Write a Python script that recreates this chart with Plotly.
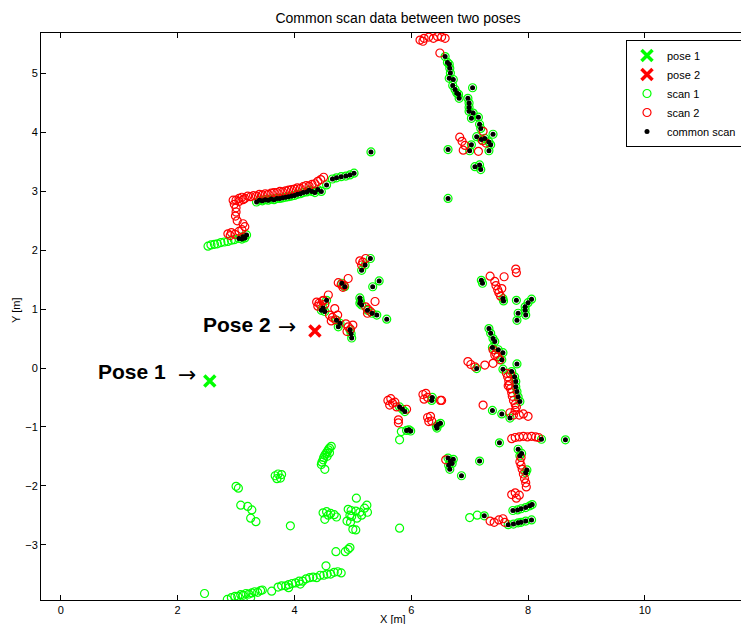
import plotly.graph_objects as go

# ---------------- data (metres) ----------------
pose1_x = [2.55]
pose1_y = [-0.22]
pose2_x = [4.35]
pose2_y = [0.63]

# scan 1 points that have no match in scan 2 (green only)
scan1_only_x = [2.52, 2.57, 2.63, 2.68, 2.74, 2.80, 2.86, 2.92, 2.97,
                4.63, 4.60, 4.58, 4.56, 4.54, 4.52, 4.50, 4.49, 4.47, 4.46, 4.56, 4.60, 4.52,
                3.67, 3.72, 3.78, 3.70, 3.76,
                3.00, 3.04,
                3.08, 3.20, 3.27, 3.25, 3.34, 3.93,
                4.49, 4.55, 4.62, 4.68, 4.72, 4.52, 4.58,
                5.06, 4.92, 4.97, 5.05, 5.12, 5.20, 5.24, 5.25, 4.98, 5.07, 4.90, 4.96, 5.00, 5.05, 4.95, 5.15,
                4.87, 4.92, 4.95, 4.71,
                2.46, 2.85, 2.92, 2.98, 3.03, 3.08, 3.12, 3.17, 3.22, 3.27, 3.32, 3.37, 3.42, 3.61,
                3.72, 3.78, 3.85, 3.90, 3.96, 4.02, 4.08, 4.14, 4.20, 4.26, 4.32, 4.38, 4.44, 4.50,
                4.56, 4.62, 4.68, 4.74, 4.80, 4.54, 4.10, 3.90, 3.25, 3.45,
                5.83, 5.80, 7.00, 7.13, 5.80]
scan1_only_y = [2.07, 2.09, 2.10, 2.11, 2.13, 2.14, 2.15, 2.17, 2.18,
                -1.33, -1.36, -1.39, -1.42, -1.45, -1.48, -1.52, -1.56, -1.60, -1.64, -1.50, -1.44, -1.72,
                -1.83, -1.80, -1.81, -1.88, -1.87,
                -2.01, -2.04,
                -2.33, -2.35, -2.41, -2.55, -2.61, -2.68,
                -2.46, -2.44, -2.47, -2.49, -2.53, -2.57, -2.50,
                -2.21, -2.40, -2.42, -2.43, -2.45, -2.38, -2.33, -2.45, -2.52, -2.55, -2.60, -2.62, -2.74, -2.75, -2.50, -2.50,
                -3.12, -3.08, -3.05, -3.12,
                -3.83, -3.93, -3.90, -3.88, -3.88, -3.85, -3.86, -3.83, -3.84, -3.82, -3.80, -3.81, -3.78, -3.79,
                -3.72, -3.70, -3.70, -3.68, -3.66, -3.65, -3.62, -3.62, -3.58, -3.56, -3.55, -3.56, -3.52, -3.52,
                -3.50, -3.50, -3.47, -3.46, -3.48, -3.36, -3.67, -3.73, -3.90, -3.77,
                -1.08, -1.22, -2.54, -2.50, -2.72]

# common scan points (scan 1 points matched in scan 2)
common_x = [6.58, 6.62, 6.65, 6.66, 6.67, 6.65, 6.72, 6.71, 6.75, 6.78, 6.81, 6.82, 7.05,
            6.97, 6.99, 6.99, 6.99, 7.06, 7.03, 7.15, 7.17, 7.19, 7.12, 7.20, 7.26, 7.33, 7.40,
            7.36, 7.03, 7.00, 7.33, 6.63, 7.09, 7.17, 7.19, 6.63,
            3.35, 3.40, 3.45, 3.50, 3.55, 3.60, 3.65, 3.70, 3.75, 3.80, 3.85, 3.90, 3.95, 4.00,
            4.05, 4.10, 4.15, 4.21, 4.25, 4.30, 4.35, 4.40, 4.46, 4.55, 4.65, 4.72, 4.80, 4.88,
            4.95, 5.02, 5.31, 3.05, 3.12, 3.18, 3.10, 3.15,
            5.30, 5.21, 5.15, 5.45, 5.34, 4.86, 4.81, 5.12, 5.13, 5.12, 5.15, 5.25, 5.33, 5.41,
            5.58, 4.55, 4.46, 4.52, 4.49, 4.72, 4.78, 4.75, 4.95, 4.97, 4.98,
            7.20, 7.22, 7.57, 7.58, 7.80, 8.06, 8.00, 7.95, 7.95, 7.83, 7.81, 7.96,
            7.33, 7.36, 7.40, 7.43, 7.39, 7.49, 7.57, 7.55, 7.57, 7.81, 7.72, 7.77, 7.79, 7.79,
            7.81, 7.83, 7.86, 7.12, 7.39, 7.55, 7.69,
            8.23, 8.64, 7.51, 7.83, 7.89, 7.86, 7.98, 7.96, 7.17, 6.86, 6.66, 6.63, 6.67, 6.70,
            6.72, 6.64, 7.74, 7.82, 7.88, 7.96, 8.03, 8.07, 7.25, 7.66, 7.75, 7.83, 7.88, 7.96, 8.06,
            5.80, 5.85, 5.89, 6.35, 6.36, 5.92, 5.96, 5.99, 6.43, 6.46, 6.50, 6.44]
common_y = [5.29, 5.19, 5.16, 5.09, 5.01, 4.92, 4.90, 4.80, 4.73, 4.67, 4.65, 4.58, 4.76,
            4.58, 4.50, 4.43, 4.36, 4.33, 4.24, 4.26, 4.14, 4.07, 3.93, 3.88, 3.90, 3.84, 3.97,
            3.79, 3.79, 3.69, 3.69, 3.71, 3.42, 3.45, 3.37, 2.88,
            2.82, 2.85, 2.84, 2.86, 2.85, 2.87, 2.86, 2.88, 2.88, 2.89, 2.90, 2.91, 2.92, 2.93,
            2.95, 2.96, 2.98, 2.99, 3.02, 3.00, 2.98, 3.03, 3.00, 3.11, 3.21, 3.23, 3.25, 3.26,
            3.28, 3.31, 3.67, 2.20, 2.23, 2.26, 2.19, 2.21,
            1.86, 1.75, 1.66, 1.48, 1.38, 1.38, 1.44, 1.19, 1.14, 1.10, 1.07, 0.98, 0.93, 0.90,
            0.83, 1.15, 0.98, 0.96, 1.02, 0.81, 0.76, 0.70, 0.65, 0.58, 0.51,
            1.49, 1.44, 1.18, 1.14, 1.15, 1.17, 1.11, 1.04, 0.98, 0.93, 0.81, 0.90,
            0.67, 0.59, 0.50, 0.45, 0.35, 0.31, 0.26, 0.14, -0.02, 0.07, -0.06, -0.15, -0.23, -0.32,
            -0.40, -0.49, -0.57, -0.01, -0.72, -0.78, -0.85,
            -1.21, -1.22, -1.27, -1.38, -1.45, -1.49, -1.73, -1.78, -1.58, -1.83, -1.72, -1.53, -1.58, -1.62,
            -1.55, -1.65, -2.42, -2.41, -2.39, -2.37, -2.34, -2.32, -2.51, -2.66, -2.65, -2.63, -2.62, -2.60, -2.58,
            -0.66, -0.70, -0.74, -0.55, -0.50, -1.06, -1.05, -1.07, -0.99, -0.96, -0.94, -1.02]

# scan 2 points
scan2_x = [6.15, 6.22, 6.30, 6.38, 6.45, 6.52, 6.58, 6.20, 6.49, 6.83, 6.87, 6.92, 6.89, 7.15, 7.23, 7.22, 7.28,
           2.95, 2.97, 3.00, 3.00, 2.99, 3.02, 3.00, 3.05, 3.10, 3.15, 3.20, 3.25, 3.30, 3.35, 3.40, 3.45,
           3.50, 3.55, 3.60, 3.65, 3.70, 3.75, 3.80, 3.85, 3.90, 3.95, 4.00, 4.05, 4.10, 4.15, 4.20, 4.25,
           4.30, 4.35, 4.40, 4.45, 4.50, 3.05, 3.12,
           2.86, 2.92, 2.98, 3.05, 3.10, 3.15, 3.12, 2.90,
           5.12, 5.17, 5.15, 5.22, 4.75, 4.80, 4.85, 4.92, 4.83, 4.38, 4.42, 4.45, 4.48, 4.52, 4.40, 4.58,
           4.50, 4.60, 4.65, 4.70, 4.63, 4.69, 4.74, 4.88, 4.92, 4.96, 5.00, 4.90, 5.22, 5.26, 5.30, 5.25, 5.38,
           7.35, 7.43, 7.45, 7.48, 7.50, 7.53, 7.55, 7.59, 7.79, 7.80, 7.40, 7.45, 7.48, 7.52, 7.43,
           6.97, 7.02, 7.09, 7.26, 7.40, 7.63, 7.65, 7.67, 7.68, 7.70, 7.72, 7.73, 7.75, 7.78, 7.80, 7.66, 7.70,
           7.23, 6.52, 7.69, 7.75, 7.85, 7.92, 8.00, 7.78,
           7.72, 7.78, 7.85, 7.92, 7.99, 8.06, 8.13, 8.18, 7.86, 7.88, 7.90, 7.92, 7.94, 7.96, 7.97, 7.88,
           7.72, 7.78, 7.85, 7.80, 7.35, 7.42, 7.50, 7.57, 7.60, 6.59,
           5.60, 5.65, 5.68, 5.72, 5.63, 5.75, 5.92, 6.20, 6.25, 6.28, 6.22, 6.50, 5.78, 5.78, 6.28, 6.33, 6.35, 6.30]
scan2_y = [5.57, 5.60, 5.62, 5.60, 5.63, 5.62, 5.60, 5.55, 5.35, 3.92, 3.85, 3.78, 3.70, 3.68, 4.02, 3.86, 3.82,
           2.85, 2.78, 2.72, 2.65, 2.58, 2.50, 2.85, 2.88, 2.90, 2.88, 2.92, 2.91, 2.93, 2.92, 2.95, 2.94,
           2.96, 2.95, 2.97, 2.98, 2.98, 3.00, 2.99, 3.01, 3.02, 3.03, 3.04, 3.06, 3.05, 3.08, 3.10, 3.09,
           3.12, 3.13, 3.17, 3.20, 3.24, 2.83, 2.86,
           2.28, 2.30, 2.27, 2.32, 2.35, 2.40, 2.45, 2.25,
           1.82, 1.80, 1.75, 1.86, 1.45, 1.42, 1.40, 1.52, 1.37, 1.12, 1.10, 1.06, 1.14, 1.08, 1.05, 1.24,
           1.15, 0.90, 0.86, 0.82, 0.80, 1.01, 0.90, 0.75, 0.70, 0.66, 0.73, 0.62, 1.04, 1.00, 0.96, 0.93, 1.13,
           1.56, 1.47, 1.40, 1.33, 1.28, 1.22, 1.35, 1.55, 1.68, 1.62, 0.31, 0.25, 0.19, 0.14, 0.22,
           0.11, 0.06, 0.02, 0.05, 0.08, -0.09, -0.15, -0.22, -0.28, -0.35, -0.42, -0.48, -0.55, -0.62, -0.66, -0.30, -0.10,
           -0.63, -0.55, -0.76, -0.80, -0.80, -0.78, -0.82, -0.72,
           -1.20, -1.18, -1.17, -1.16, -1.17, -1.16, -1.17, -1.18, -1.59, -1.65, -1.72, -1.80, -1.88, -1.95, -2.02, -1.52,
           -2.15, -2.12, -2.16, -2.21, -2.60, -2.62, -2.58, -2.56, -2.62, -1.56,
           -0.55, -0.52, -0.60, -0.58, -0.63, -0.66, -0.70, -0.45, -0.43, -0.50, -0.53, -0.55, -0.93, -0.88, -0.84, -0.82, -0.90, -0.91]

scan1_x = scan1_only_x + common_x
scan1_y = scan1_only_y + common_y

x_ticks = [0, 2, 4, 6, 8, 10]
y_ticks = [-3, -2, -1, 0, 1, 2, 3, 4, 5]

FONT = "Liberation Sans, Arial, sans-serif"
GREEN = "#00ff00"
RED = "#ff0000"

# The page body has an 8 px margin all round, so the figure is kept inside
# (8..741, 8..624) of the window to avoid scrollbars.
W, H = 733, 616
ML, MT, MB = 33, 25, 24
PW = W - ML          # plot-area width in px
PH = H - MT - MB     # plot-area height in px

fig = go.Figure()
fig.add_trace(go.Scatter(x=scan1_x, y=scan1_y, mode="markers", name="scan 1", legendrank=3,
                         marker=dict(symbol="circle-open", size=8, color=GREEN, line=dict(width=1.2, color=GREEN))))
fig.add_trace(go.Scatter(x=scan2_x, y=scan2_y, mode="markers", name="scan 2", legendrank=4,
                         marker=dict(symbol="circle-open", size=8, color=RED, line=dict(width=1.2, color=RED))))
fig.add_trace(go.Scatter(x=common_x, y=common_y, mode="markers", name="common scan", legendrank=5,
                         marker=dict(symbol="circle", size=5, color="black")))
fig.add_trace(go.Scatter(x=pose1_x, y=pose1_y, mode="markers", name="pose 1", legendrank=1,
                         marker=dict(symbol="x-thin", size=11, color=GREEN, line=dict(width=3.5, color=GREEN))))
fig.add_trace(go.Scatter(x=pose2_x, y=pose2_y, mode="markers", name="pose 2", legendrank=2,
                         marker=dict(symbol="x-thin", size=11, color=RED, line=dict(width=3.5, color=RED))))

label_font = dict(family=FONT, size=21, color="black")
arrow_font = dict(family="DejaVu Sans", size=22, color="black")
fig.add_annotation(x=pose1_x[0], y=pose1_y[0], text="<b>Pose 1</b>", showarrow=False,
                   xanchor="right", yanchor="middle", xshift=-42, yshift=9, font=label_font)
fig.add_annotation(x=pose1_x[0], y=pose1_y[0], text="→", showarrow=False,
                   xanchor="right", yanchor="middle", xshift=-12, yshift=6, font=arrow_font)
fig.add_annotation(x=pose2_x[0], y=pose2_y[0], text="<b>Pose 2</b>", showarrow=False,
                   xanchor="right", yanchor="middle", xshift=-42, yshift=6, font=label_font)
fig.add_annotation(x=pose2_x[0], y=pose2_y[0], text="→", showarrow=False,
                   xanchor="right", yanchor="middle", xshift=-17, yshift=4, font=arrow_font)

# axis titles
fig.add_annotation(xref="paper", yref="paper", x=(393 - 41) / PW, y=(600 - 619) / PH,
                   text="X [m]", showarrow=False, xanchor="center", yanchor="middle",
                   font=dict(family=FONT, size=11, color="black"))
fig.add_annotation(xref="paper", yref="paper", x=(16 - 41) / PW, y=(600 - 311) / PH,
                   text="Y [m]", showarrow=False, xanchor="center", yanchor="middle", textangle=-90,
                   font=dict(family=FONT, size=11, color="black"))

axis_common = dict(showgrid=False, zeroline=False, showline=True, linecolor="black", linewidth=1,
                   ticks="inside", ticklen=5, tickcolor="black", automargin=False,
                   tickfont=dict(family=FONT, size=11, color="black"))

fig.update_layout(
    width=W, height=H,
    margin=dict(l=ML, r=0, t=MT, b=MB, autoexpand=False),
    paper_bgcolor="white", plot_bgcolor="white",
    title=dict(text="Common scan data between two poses", x=(398 - 8) / W, xanchor="center",
               y=1 - (18 - 8) / H, yanchor="middle", font=dict(family=FONT, size=14, color="black")),
    # the axes box continues past the window's right edge, so no right-hand frame line
    xaxis=dict(range=[-0.34, -0.34 + PW / 58.4], tickvals=x_ticks, mirror="ticks", **axis_common),
    yaxis=dict(range=[-3.94, 5.69], tickvals=y_ticks, mirror=False, **axis_common),
    legend=dict(x=(626 - 41) / PW, y=1 - 7 / PH, xanchor="left", yanchor="top",
                bgcolor="white", bordercolor="black", borderwidth=1,
                font=dict(family=FONT, size=11, color="black"), tracegroupgap=0,
                itemsizing="trace", itemwidth=30),
    showlegend=True,
)

fig.write_html("out.html")
